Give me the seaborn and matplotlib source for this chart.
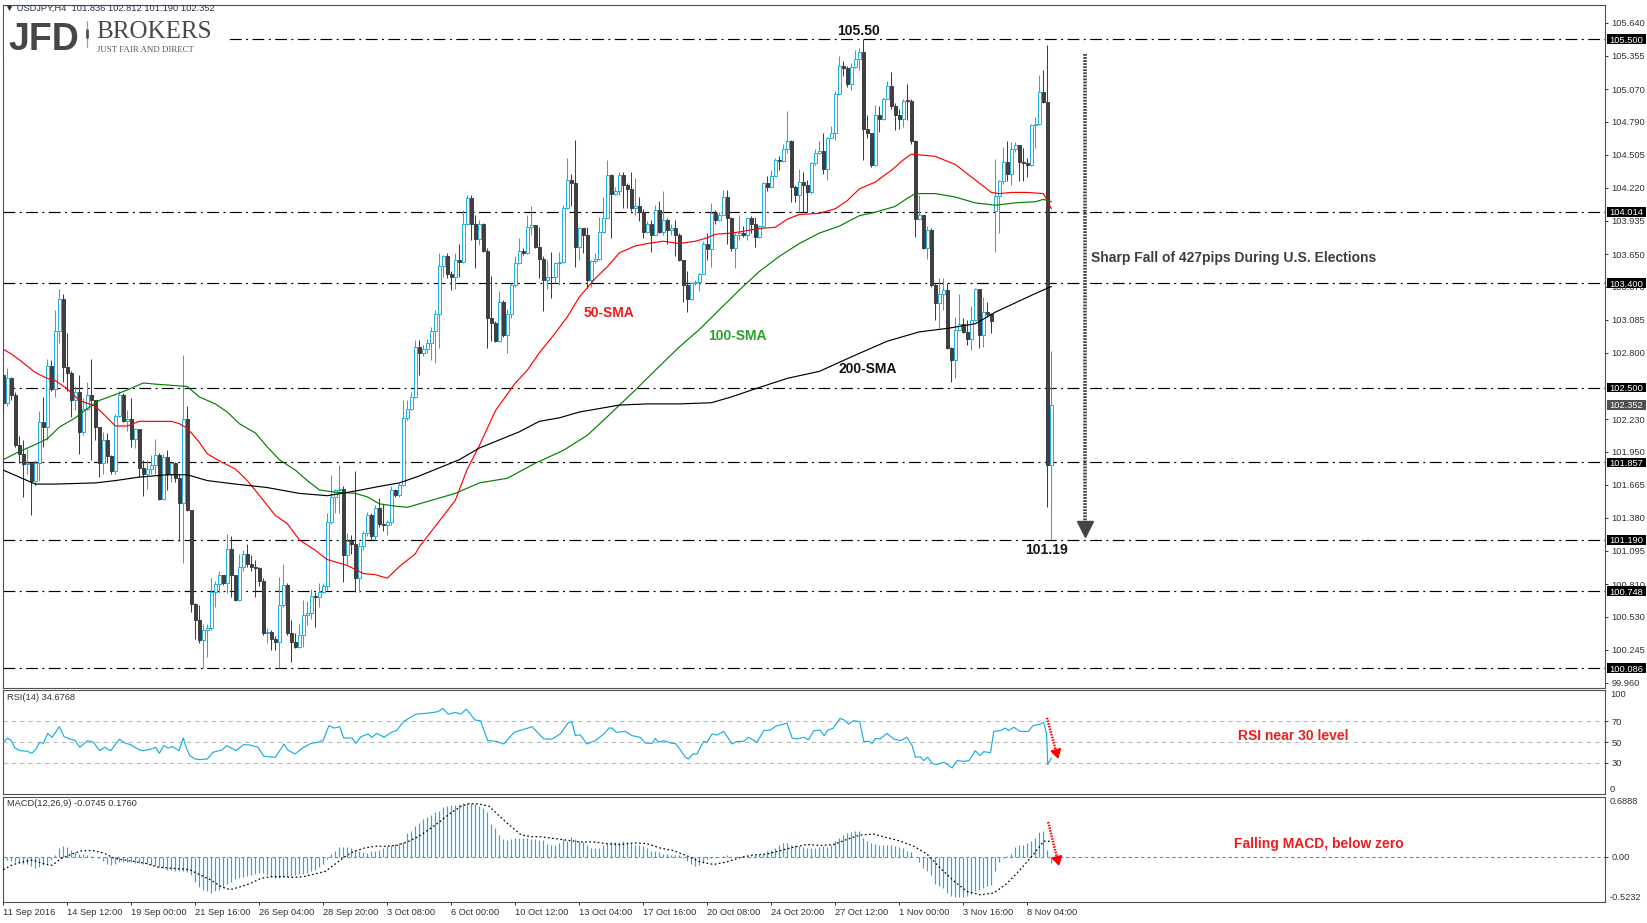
import numpy as np
import pandas as pd
import matplotlib
matplotlib.use("Agg")
import matplotlib.pyplot as plt
import seaborn as sns
from matplotlib.transforms import blended_transform_factory
from matplotlib.patches import Rectangle
from matplotlib.lines import Line2D

# ---------------- data ----------------
header_text = "\u25BC USDJPY,H4  101.836 102.812 101.190 102.352"
first_open = 102.61
gap_opens = {248: 104.02}   # Monday gap-up candle

closes = [
    102.37, 102.58, 102.44, 102.01, 101.93, 101.84, 101.85, 101.70, 101.85, 102.20,
    102.16, 102.69, 102.49, 102.99, 103.26, 102.68, 102.63, 102.39, 102.46, 102.12,
    102.32, 102.44, 102.39, 102.16, 101.85, 102.05, 101.91, 101.78, 102.26, 102.44,
    102.21, 102.23, 102.06, 102.14, 101.81, 101.76, 101.80, 101.83, 101.92, 101.54,
    101.90, 101.76, 101.85, 101.72, 101.51, 102.23, 101.45, 100.64, 100.50, 100.33,
    100.41, 100.43, 100.74, 100.81, 100.89, 100.82, 101.11, 100.89, 100.67, 100.96,
    101.07, 100.98, 100.96, 100.95, 100.84, 100.39, 100.40, 100.34, 100.31, 100.63,
    100.80, 100.39, 100.31, 100.27, 100.37, 100.54, 100.56, 100.71, 100.70, 100.74,
    100.79, 101.34, 101.56, 101.62, 101.63, 101.06, 101.18, 101.15, 100.86, 101.14,
    101.25, 101.40, 101.22, 101.46, 101.33, 101.32, 101.34, 101.62, 101.58, 101.66,
    102.24, 102.32, 102.42, 102.85, 102.80, 102.83, 102.88, 102.99, 103.13, 103.55,
    103.63, 103.48, 103.45, 103.60, 103.58, 103.91, 104.13, 103.91, 103.78, 103.91,
    103.68, 103.10, 103.06, 102.90, 103.24, 102.95, 103.13, 103.38, 103.57, 103.68,
    103.66, 103.88, 103.90, 103.71, 103.61, 103.43, 103.45, 103.45, 103.57, 103.58,
    104.05, 104.29, 104.26, 103.71, 103.87, 103.81, 103.43, 103.59, 103.61, 103.84,
    103.96, 104.33, 104.17, 104.19, 104.33, 104.24, 104.21, 104.05, 104.06, 104.01,
    103.84, 103.91, 103.81, 104.03, 103.84, 103.94, 103.86, 103.87, 103.81, 103.60,
    103.38, 103.26, 103.40, 103.41, 103.48, 103.74, 103.69, 104.00, 103.94, 103.99,
    104.14, 103.96, 103.70, 103.81, 103.83, 103.81, 103.96, 103.91, 103.80, 103.89,
    104.26, 104.23, 104.32, 104.46, 104.45, 104.55, 104.62, 104.23, 104.16, 104.27,
    104.24, 104.18, 104.43, 104.52, 104.54, 104.38, 104.65, 104.69, 105.03, 105.27,
    105.25, 105.11, 105.26, 105.33, 105.39, 104.73, 104.69, 104.42, 104.85, 104.81,
    104.98, 105.10, 104.92, 104.85, 104.81, 104.97, 104.97, 104.62, 103.95, 103.99,
    103.70, 103.86, 103.38, 103.23, 103.31, 103.34, 102.84, 102.74, 103.00, 103.05,
    102.98, 102.92, 103.08, 103.35, 102.95, 103.15, 103.13, 103.07, 104.15, 104.28,
    104.44, 104.34, 104.55, 104.59, 104.44, 104.43, 104.42, 104.76, 104.77, 105.04,
    104.96, 101.836, 102.352]

highs = [
    102.62, 102.67, 102.59, 102.46, 102.08, 102.05, 101.98, 101.85, 101.88, 102.30,
    102.42, 102.75, 102.74, 103.17, 103.35, 103.31, 102.97, 102.64, 102.51, 102.61,
    102.41, 102.55, 102.75, 102.39, 102.16, 102.12, 102.11, 101.92, 102.27, 102.47,
    102.45, 102.31, 102.41, 102.15, 102.14, 101.88, 101.88, 101.92, 102.06, 101.94,
    101.93, 101.96, 101.86, 101.86, 101.76, 102.78, 102.34, 101.45, 100.65, 100.63,
    100.47, 100.47, 100.86, 100.84, 100.92, 100.89, 101.24, 101.22, 100.89, 101.07,
    101.10, 101.15, 101.06, 101.02, 100.96, 100.86, 100.43, 100.41, 100.36, 100.87,
    100.98, 100.82, 100.50, 100.39, 100.47, 100.67, 100.66, 100.77, 100.74, 100.82,
    100.82, 101.42, 101.75, 101.63, 101.83, 101.65, 101.25, 101.23, 101.78, 101.17,
    101.27, 101.43, 101.42, 101.49, 101.55, 101.50, 101.36, 101.65, 101.63, 101.68,
    102.39, 102.39, 102.46, 102.91, 102.91, 102.87, 102.92, 103.02, 103.17, 103.66,
    103.64, 103.66, 103.50, 103.66, 103.74, 104.03, 104.16, 104.16, 103.99, 103.94,
    103.92, 103.70, 103.46, 103.07, 103.33, 103.25, 103.18, 103.40, 103.63, 103.79,
    103.70, 103.99, 104.06, 103.90, 103.88, 103.63, 103.60, 103.67, 103.58, 103.67,
    104.07, 104.48, 104.34, 104.63, 103.88, 103.87, 103.88, 103.60, 103.66, 103.97,
    104.14, 104.46, 104.34, 104.23, 104.36, 104.36, 104.26, 104.36, 104.30, 104.14,
    104.04, 103.93, 103.94, 104.07, 104.11, 104.19, 103.96, 103.91, 103.94, 103.83,
    103.60, 103.50, 103.41, 103.43, 103.49, 103.76, 103.83, 104.09, 104.03, 104.01,
    104.20, 104.20, 103.97, 103.83, 103.99, 103.89, 103.97, 103.98, 103.97, 103.90,
    104.27, 104.32, 104.37, 104.48, 104.49, 104.60, 104.88, 104.63, 104.24, 104.38,
    104.36, 104.29, 104.44, 104.55, 104.62, 104.69, 104.66, 104.75, 105.05, 105.35,
    105.31, 105.27, 105.29, 105.41, 105.42, 105.50, 104.85, 104.69, 104.93, 104.92,
    105.00, 105.14, 105.22, 104.95, 104.90, 104.98, 105.11, 104.98, 104.63, 104.16,
    103.99, 103.89, 103.87, 103.40, 103.44, 103.44, 103.40, 102.85, 103.11, 103.31,
    103.10, 103.08, 103.20, 103.36, 103.35, 103.28, 103.24, 103.14, 104.47, 104.29,
    104.57, 104.62, 104.61, 104.61, 104.59, 104.56, 104.48, 104.77, 104.83, 105.19,
    105.23, 105.45, 102.812]

lows = [
    102.29, 102.34, 102.39, 101.99, 101.85, 101.56, 101.76, 101.40, 101.65, 101.70,
    101.99, 102.05, 102.47, 102.42, 102.88, 102.55, 102.47, 102.25, 102.31, 101.93,
    102.09, 102.31, 101.88, 102.05, 101.73, 101.76, 101.85, 101.76, 101.76, 102.25,
    102.20, 102.13, 101.99, 101.98, 101.73, 101.57, 101.63, 101.76, 101.76, 101.53,
    101.53, 101.62, 101.69, 101.69, 101.18, 100.99, 101.44, 100.57, 100.34, 100.30,
    100.09, 100.18, 100.41, 100.61, 100.73, 100.80, 100.73, 100.70, 100.66, 100.66,
    100.92, 100.96, 100.92, 100.70, 100.79, 100.37, 100.30, 100.24, 100.24, 100.09,
    100.61, 100.37, 100.14, 100.26, 100.26, 100.27, 100.46, 100.51, 100.44, 100.61,
    100.73, 100.76, 101.33, 101.42, 101.42, 100.83, 100.97, 101.07, 100.74, 100.74,
    101.10, 101.22, 101.19, 101.19, 101.30, 101.27, 101.23, 101.32, 101.56, 101.56,
    101.65, 102.22, 102.31, 102.41, 102.61, 102.77, 102.80, 102.74, 102.71, 102.84,
    103.45, 103.44, 103.34, 103.35, 103.45, 103.57, 103.90, 103.77, 103.53, 103.73,
    103.67, 102.84, 102.90, 102.89, 102.89, 102.94, 102.80, 103.10, 103.37, 103.56,
    103.64, 103.65, 103.81, 103.70, 103.44, 103.16, 103.35, 103.27, 103.40, 103.38,
    103.57, 104.04, 104.06, 103.54, 103.60, 103.66, 103.36, 103.37, 103.57, 103.60,
    103.83, 103.95, 103.79, 104.16, 104.16, 104.05, 104.05, 104.02, 103.99, 103.93,
    103.79, 103.83, 103.67, 103.81, 103.83, 103.81, 103.74, 103.81, 103.63, 103.59,
    103.24, 103.15, 103.25, 103.38, 103.33, 103.48, 103.60, 103.54, 103.91, 103.93,
    103.99, 103.74, 103.68, 103.53, 103.77, 103.80, 103.77, 103.83, 103.71, 103.79,
    103.88, 104.19, 104.23, 104.32, 104.37, 104.44, 104.52, 104.10, 104.10, 104.01,
    104.01, 104.01, 104.17, 104.42, 104.51, 104.34, 104.29, 104.65, 104.63, 105.03,
    105.18, 105.09, 105.06, 105.25, 105.23, 104.46, 104.65, 104.40, 104.41, 104.70,
    104.80, 104.98, 104.90, 104.72, 104.73, 104.74, 104.80, 104.60, 103.80, 103.94,
    103.69, 103.61, 103.37, 103.08, 103.01, 103.17, 102.83, 102.55, 102.58, 102.99,
    102.97, 102.87, 102.82, 103.07, 102.84, 102.85, 103.11, 102.97, 103.67, 103.83,
    104.25, 104.28, 104.24, 104.53, 104.28, 104.28, 104.31, 104.41, 104.56, 104.76,
    104.95, 101.47, 101.190]

sma50 = [(0, 102.83), (2, 102.79), (4, 102.74), (8, 102.63), (11, 102.58), (13, 102.56),
         (16, 102.49), (19, 102.39), (23, 102.34), (26, 102.24), (28, 102.17), (31, 102.17),
         (34, 102.21), (38, 102.21), (42, 102.21), (44, 102.19), (46, 102.15), (49, 102.03),
         (51, 101.93), (54, 101.87), (58, 101.80), (61, 101.70), (65, 101.53), (68, 101.40),
         (71, 101.33), (74, 101.19), (78, 101.10), (81, 101.02), (86, 100.97), (90, 100.90),
         (93, 100.89), (96, 100.86), (99, 100.96), (103, 101.07), (104, 101.13), (113, 101.53),
         (116, 101.80), (119, 102.00), (123, 102.30), (128, 102.54), (131, 102.65), (134, 102.80),
         (138, 102.97), (141, 103.11), (144, 103.28), (148, 103.44), (151, 103.54), (154, 103.66),
         (158, 103.72), (161, 103.74), (165, 103.76), (169, 103.74), (173, 103.76), (176, 103.79),
         (178, 103.82), (182, 103.83), (184, 103.84), (189, 103.87), (193, 103.88), (196, 103.95),
         (199, 103.99), (204, 104.00), (208, 104.04), (211, 104.11), (214, 104.21), (218, 104.27),
         (222, 104.37), (225, 104.46), (227, 104.51), (230, 104.50), (233, 104.49), (238, 104.42),
         (241, 104.34), (244, 104.26), (247, 104.18), (249, 104.17), (252, 104.18), (256, 104.18),
         (260, 104.17), (261, 104.11), (262, 104.04)]

sma100 = [(0, 101.88), (4, 101.95), (8, 102.01), (11, 102.06), (14, 102.16), (18, 102.24),
          (21, 102.32), (24, 102.39), (28, 102.44), (31, 102.48), (35, 102.54), (38, 102.53),
          (42, 102.52), (46, 102.51), (49, 102.42), (53, 102.36), (56, 102.29), (59, 102.19),
          (63, 102.11), (66, 101.99), (69, 101.88), (73, 101.79), (76, 101.70), (79, 101.62),
          (83, 101.60), (88, 101.59), (91, 101.56), (94, 101.50), (98, 101.48), (101, 101.47),
          (104, 101.50), (108, 101.54), (113, 101.59), (119, 101.68), (126, 101.72), (133, 101.85),
          (140, 101.96), (146, 102.09), (151, 102.25), (158, 102.48), (163, 102.65), (169, 102.85),
          (174, 103.00), (179, 103.17), (184, 103.34), (189, 103.50), (194, 103.63), (199, 103.74),
          (204, 103.83), (209, 103.89), (214, 103.98), (218, 104.01), (223, 104.06), (226, 104.13),
          (228, 104.17), (233, 104.17), (238, 104.14), (243, 104.09), (248, 104.07), (253, 104.09),
          (258, 104.10), (260, 104.12), (262, 104.10)]

sma200 = [(0, 101.79), (4, 101.73), (8, 101.67), (13, 101.67), (23, 101.68), (28, 101.70),
          (34, 101.73), (41, 101.75), (46, 101.75), (51, 101.70), (58, 101.67), (66, 101.64),
          (74, 101.59), (81, 101.57), (88, 101.61), (94, 101.65), (99, 101.68), (104, 101.74),
          (109, 101.81), (114, 101.88), (119, 101.98), (124, 102.05), (129, 102.12), (134, 102.21),
          (139, 102.24), (144, 102.29), (149, 102.32), (154, 102.35), (161, 102.36), (169, 102.36),
          (177, 102.37), (182, 102.42), (188, 102.49), (196, 102.58), (204, 102.64), (213, 102.78),
          (221, 102.90), (229, 102.98), (236, 103.01), (243, 103.05), (248, 103.15), (253, 103.23),
          (258, 103.31), (262, 103.37)]

rsi_points = [
    (0, 49.7), (1.1, 53.8), (2.0, 51.3), (2.9, 44.2), (4.2, 41.7), (6.0, 41.1), (7.1, 39.1),
    (8.2, 43.3), (9.1, 49.7), (10.0, 48.7), (11.1, 58.3), (12.2, 54.5), (14.0, 64.7), (15.2, 55.1),
    (16.7, 52.9), (18.0, 51.3), (19.1, 44.9), (21.1, 51.3), (22.5, 49.7), (24.1, 41.7), (25.3, 44.9),
    (26.9, 41.7), (29.0, 52.6), (30.5, 49.0), (31.8, 47.4), (34.1, 42.3), (35.0, 41.7), (36.8, 43.0),
    (38.1, 44.9), (39.0, 39.1), (40.1, 46.5), (41.2, 44.2), (42.3, 45.5), (43.9, 41.7), (45.0, 53.8),
    (45.7, 44.9), (46.6, 36.9), (47.9, 33.7), (49.2, 33.1), (51.0, 33.7), (52.4, 40.1), (54.6, 42.3),
    (55.9, 46.5), (58.2, 41.7), (60.0, 47.4), (61.7, 47.1), (63.7, 44.9), (65.1, 36.3), (68.0, 35.3),
    (70.2, 48.1), (71.1, 42.3), (72.9, 38.5), (75.1, 44.9), (76.9, 48.7), (78.7, 49.7), (80.0, 51.9),
    (81.4, 65.7), (82.7, 63.4), (84.1, 64.7), (85.1, 53.8), (87.2, 53.8), (88.1, 48.7), (89.4, 55.1),
    (91.2, 57.7), (92.1, 54.5), (93.4, 58.3), (95.2, 54.5), (97.0, 59.3), (98.3, 60.9), (100.1, 69.8),
    (103.2, 76.8), (106.3, 77.8), (108.6, 79.1), (109.9, 82.3), (111.2, 76.8), (113.0, 78.4),
    (114.4, 76.8), (115.7, 81.6), (118.0, 71.1), (119.3, 70.4), (121.1, 51.3), (123.3, 50.6),
    (125.1, 48.1), (127.7, 59.3), (130.4, 62.5), (132.2, 64.7), (135.1, 52.9), (137.2, 52.9),
    (139.2, 57.7), (141.3, 68.9), (142.2, 68.9), (143.0, 56.1), (144.2, 57.0), (145.9, 48.1),
    (148.0, 51.3), (150.1, 57.7), (151.4, 63.4), (152.2, 63.4), (153.2, 59.3), (155.5, 60.2),
    (157.2, 56.1), (159.2, 54.5), (160.5, 49.0), (162.2, 48.7), (163.0, 53.5), (163.8, 49.7),
    (165.1, 51.3), (167.2, 48.7), (168.0, 48.7), (168.8, 44.9), (170.5, 35.3), (171.3, 33.7),
    (172.4, 38.5), (173.4, 38.5), (175.1, 50.6), (175.9, 49.7), (177.2, 57.7), (178.4, 56.7),
    (180.1, 60.2), (182.2, 48.1), (183.4, 50.6), (185.1, 50.6), (186.3, 54.5), (188.4, 49.7),
    (190.1, 60.9), (191.8, 61.5), (193.0, 65.0), (195.9, 68.2), (197.2, 53.8), (198.4, 52.9),
    (200.1, 54.5), (201.3, 52.2), (202.6, 60.9), (204.2, 61.5), (205.2, 56.1), (206.1, 61.5),
    (207.4, 63.1), (209.2, 72.7), (210.2, 71.1), (211.3, 67.3), (212.6, 70.5), (214.1, 69.5),
    (215.1, 50.6), (216.3, 50.6), (217.2, 48.7), (218.0, 53.5), (219.2, 52.9), (220.9, 58.3),
    (222.6, 52.9), (224.2, 51.3), (225.9, 54.5), (227.2, 46.5), (228.0, 35.3), (229.2, 35.9),
    (230.1, 32.1), (231.1, 35.3), (232.2, 29.5), (233.2, 28.2), (235.1, 30.5), (236.1, 28.2),
    (237.2, 25.0), (238.4, 32.1), (240.1, 31.4), (241.4, 32.1), (243.0, 41.7), (244.1, 36.9),
    (245.1, 40.7), (246.8, 39.8), (247.6, 60.2), (249.2, 60.9), (250.5, 63.4), (251.3, 60.9),
    (252.6, 64.1), (254.2, 60.2), (256.3, 60.2), (257.4, 65.7), (259.2, 67.3), (260.1, 68.9),
    (260.8, 57.7), (261.1, 28.2), (262.0, 34.7)]

macd_hist = [
    -0.03, -0.04, -0.05, -0.06, -0.07, -0.08, -0.09, -0.11, -0.13, -0.12, -0.10, -0.07, -0.04,
    0.02, 0.10, 0.12, 0.11, 0.08, 0.05, 0.03, 0.03, 0.02, 0.01, 0.00,
    -0.02, -0.05, -0.08, -0.10, -0.08, -0.06, -0.06, -0.06, -0.06, -0.07, -0.07, -0.08, -0.09,
    -0.10, -0.11, -0.12, -0.13, -0.15, -0.15, -0.16, -0.17, -0.17, -0.18, -0.21,
    -0.29, -0.35, -0.38, -0.40, -0.42, -0.40, -0.38, -0.35, -0.32, -0.29, -0.26, -0.25, -0.24,
    -0.22, -0.21, -0.20, -0.19, -0.19, -0.21, -0.23, -0.25, -0.25, -0.24, -0.23, -0.22, -0.21,
    -0.20, -0.20, -0.19, -0.17, -0.15, -0.12, -0.08, -0.03,
    0.03, 0.07, 0.11, 0.11, 0.11, 0.10, 0.08, 0.07, 0.05, 0.04, 0.06, 0.07, 0.08, 0.10, 0.12,
    0.13, 0.15, 0.16, 0.17,
    0.27, 0.30, 0.35, 0.39, 0.43, 0.46, 0.48, 0.51, 0.53, 0.57, 0.59, 0.60, 0.60, 0.61, 0.62,
    0.62, 0.62, 0.61, 0.59, 0.56, 0.52, 0.38, 0.33, 0.25, 0.20, 0.19, 0.20, 0.21, 0.21, 0.21,
    0.21, 0.20, 0.20,
    0.19, 0.19, 0.15, 0.14, 0.13, 0.16, 0.20, 0.18, 0.23, 0.20, 0.18, 0.17, 0.13, 0.10, 0.10,
    0.10, 0.13, 0.16, 0.17, 0.17, 0.17, 0.18, 0.17, 0.16, 0.14, 0.13, 0.12, 0.10, 0.07, 0.06,
    0.05, 0.03, 0.03, 0.02, 0.02, 0.02, -0.01, -0.05, -0.09, -0.11, -0.10, -0.07, -0.03, -0.02,
    -0.01, 0.00, 0.01, 0.02,
    0.00, 0.00, 0.00, 0.01, 0.00, 0.01, 0.02, 0.03, 0.03, 0.07, 0.08, 0.10, 0.13, 0.16, 0.16,
    0.14, 0.13, 0.12, 0.11, 0.10, 0.10, 0.10, 0.11, 0.12, 0.11, 0.13, 0.18, 0.22, 0.25, 0.27,
    0.29, 0.30, 0.30, 0.22, 0.18, 0.16, 0.15, 0.14, 0.14, 0.14, 0.13, 0.12, 0.11, 0.10, 0.07,
    0.05, 0.00,
    -0.06, -0.13, -0.17, -0.21, -0.31, -0.34, -0.36, -0.42, -0.45, -0.47, -0.47, -0.47, -0.45,
    -0.43, -0.40, -0.38, -0.36, -0.34, -0.33, -0.17, -0.06, -0.01, 0.01, 0.03, 0.11, 0.13, 0.14,
    0.16, 0.18, 0.22, 0.28, 0.30, 0.08, -0.0745]

macd_signal = [
    (0, -0.15), (2, -0.10), (4.6, -0.06), (7.3, -0.04), (10, -0.08), (12.2, -0.10), (14.5, -0.02),
    (17.1, 0.03), (19.8, 0.07), (22.5, 0.07), (25.2, 0.04), (27.8, -0.02), (30.5, -0.04),
    (33.2, -0.06), (35.9, -0.08), (38.5, -0.12), (41.2, -0.13), (43.9, -0.14), (46.6, -0.15),
    (49.2, -0.21), (51.9, -0.27), (54.6, -0.35), (56.8, -0.38), (59.1, -0.35), (61.7, -0.31),
    (64.4, -0.25), (67.1, -0.23), (69.8, -0.23), (72.4, -0.24), (75.1, -0.23), (77.8, -0.20),
    (80.5, -0.17), (83.1, -0.08), (85.4, 0.00), (87.6, 0.06), (90.3, 0.10), (93.0, 0.12),
    (95.6, 0.12), (98.3, 0.13), (101.0, 0.17), (103.7, 0.23), (106.3, 0.31), (109.0, 0.40),
    (111.7, 0.50), (114.4, 0.58), (116.1, 0.61), (118.8, 0.61), (121.5, 0.58), (124.2, 0.46),
    (126.9, 0.35), (129.5, 0.25), (132.2, 0.23), (134.2, 0.23), (137.6, 0.21), (140.9, 0.19),
    (144.2, 0.17), (147.6, 0.17), (150.9, 0.15), (154.2, 0.14), (157.6, 0.16), (160.9, 0.15),
    (164.2, 0.10), (167.6, 0.07), (170.9, 0.01), (174.2, -0.06), (177.6, -0.09), (180.9, -0.06),
    (184.2, -0.01), (187.6, 0.02), (190.9, 0.03), (194.2, 0.07), (197.6, 0.11), (200.9, 0.14),
    (204.2, 0.13), (207.6, 0.14), (210.9, 0.20), (214.2, 0.25), (217.6, 0.26), (220.9, 0.22),
    (224.2, 0.18), (227.6, 0.12), (230.9, 0.03), (234.2, -0.13), (237.6, -0.28), (240.9, -0.40),
    (244.2, -0.44), (247.6, -0.42), (250.9, -0.31), (254.2, -0.15), (257.6, 0.03), (260.1, 0.18),
    (262, 0.176)]

level_prices = [105.500, 104.014, 103.400, 102.500, 101.857, 101.190, 100.748, 100.086]
last_price = 102.352
price_ticks = [105.640, 105.355, 105.070, 104.790, 104.505, 104.220, 103.935, 103.650, 103.370,
               103.085, 102.800, 102.230, 101.950, 101.665, 101.380, 101.095, 100.810,
               100.530, 100.245, 99.960]
rsi_ticks = [70, 50, 30]
rsi_levels = [70, 50, 30]
date_tick_pos = list(range(0, 257, 16))
date_labels = ["11 Sep 2016", "14 Sep 12:00", "19 Sep 00:00", "21 Sep 16:00", "26 Sep 04:00",
               "28 Sep 20:00", "3 Oct 08:00", "6 Oct 00:00", "10 Oct 12:00", "13 Oct 04:00",
               "17 Oct 16:00", "20 Oct 08:00", "24 Oct 20:00", "27 Oct 12:00", "1 Nov 00:00",
               "3 Nov 16:00", "8 Nov 04:00"]

# ---------------- style ----------------
sns.set_theme(style="white")
plt.rcParams["font.family"] = ["Liberation Sans", "DejaVu Sans"]
plt.rcParams["lines.scale_dashes"] = False
plt.rcParams["axes.unicode_minus"] = False

CYAN = "#1aaee0"
BEAR = "#3f3f3f"
AXC = "#2b313b"
SMALL = 6.7
BOLD = ["Liberation Sans", "DejaVu Sans"]
SERIF = ["Liberation Serif", "DejaVu Serif"]

W, H = 1647, 923
L, R = 3, 1605
WPX = R - L
fig = plt.figure(figsize=(W / 100, H / 100), dpi=100, facecolor="white")


def rect(top, bottom):
    return [L / W, 1 - bottom / H, (R - L) / W, (bottom - top) / H]


ax = fig.add_axes(rect(5, 688))
ax_rsi = fig.add_axes(rect(690, 794))
ax_macd = fig.add_axes(rect(797, 902))
XLIM = (-0.075, 400.4)
PMIN, PMAX = 99.915, 105.793
PPU = 683 / (PMAX - PMIN)   # pixels per price unit

# ---------------- main price panel ----------------
n = min(len(closes), len(highs), len(lows))
idx = np.arange(n)
c = np.asarray(closes[:n], float)
hi = np.asarray(highs[:n], float)
lo = np.asarray(lows[:n], float)
o = np.r_[first_open, c[:-1]]
for k, v in gap_opens.items():
    if k < n:
        o[k] = v
bull = c > o
edge = [CYAN if b else BEAR for b in bull]
face = ["white" if b else BEAR for b in bull]

for lv in level_prices:
    ax.axhline(lv, color="black", linewidth=0.85, linestyle=(0, (8.5, 3.2, 1.4, 3.2)), zorder=2)

ax.vlines(idx, lo, hi, colors=edge, linewidth=0.75, zorder=3)
ax.bar(idx, np.maximum(np.abs(c - o), 0.006), bottom=np.minimum(o, c), width=0.72,
       color=face, edgecolor=edge, linewidth=0.7, zorder=4)

for pts, colr in [(sma50, "#ff0000"), (sma100, "#008000"), (sma200, "#000000")]:
    d = pd.DataFrame(pts, columns=["i", "v"])
    sns.lineplot(data=d, x="i", y="v", ax=ax, color=colr, linewidth=0.85,
                 estimator=None, sort=False, legend=False, zorder=5)

ax.set_xlim(*XLIM)
ax.set_ylim(PMIN, PMAX)
ax.yaxis.tick_right()
ax.set_yticks(price_ticks)
ax.set_yticklabels([f"{t:.3f}" for t in price_ticks])
ax.tick_params(axis="y", which="both", direction="out", length=2.5, width=0.7, pad=2.0,
               labelsize=SMALL, colors=AXC, right=True, left=False, labelright=True, labelleft=False)
ax.tick_params(axis="x", bottom=False, labelbottom=False)
ax.set_xlabel("")
ax.set_ylabel("")


def price_box(axis, y, text, fc, ppu):
    tr = blended_transform_factory(axis.transAxes, axis.transData)
    half = 4.8 / ppu
    axis.add_patch(Rectangle((1 + 1.5 / WPX, y - half), 39.5 / WPX, 2 * half, transform=tr,
                             facecolor=fc, edgecolor="none", clip_on=False, zorder=20))
    axis.text(1 + 21.5 / WPX, y, text, transform=tr, ha="center", va="center_baseline",
              color="white", fontsize=SMALL, clip_on=False, zorder=21)


for lv in level_prices:
    price_box(ax, lv, f"{lv:.3f}", "black", PPU)
price_box(ax, last_price, f"{last_price:.3f}", "#505050", PPU)

# annotations
ax.text(213.9, 105.573, "105.50", ha="center", va="center", fontsize=10, fontweight="bold",
        family=BOLD, color="#111111", zorder=30)
ax.text(260.7, 101.102, "101.19", ha="center", va="center", fontsize=10, fontweight="bold",
        family=BOLD, color="#111111", zorder=30)
ax.text(151.4, 103.142, "50-SMA", ha="center", va="center", fontsize=10, fontweight="bold",
        family=BOLD, color="#ee1c1c", zorder=30)
ax.text(183.4, 102.944, "100-SMA", ha="center", va="center", fontsize=10, fontweight="bold",
        family=BOLD, color="#2ea02e", zorder=30)
ax.text(216.2, 102.660, "200-SMA", ha="center", va="center", fontsize=10, fontweight="bold",
        family=BOLD, color="#111111", zorder=30)
ax.text(271.9, 103.615, "Sharp Fall of 427pips During U.S. Elections", ha="left", va="center",
        fontsize=10, fontweight="bold", family=BOLD, color="#3d3d3d", zorder=30)
ax.plot([270.3, 270.3], [105.371, 101.31], color="#444444", linewidth=2.6,
        linestyle=(0, (1.3, 0.9)), zorder=6)
ax.plot([270.3], [101.280], marker="v", markersize=11, color="#444444", zorder=7)

# ---------------- RSI panel ----------------
d = pd.DataFrame(rsi_points, columns=["i", "v"])
for lv in rsi_levels:
    ax_rsi.axhline(lv, color="#b9b9b9", linewidth=0.8, linestyle=(0, (3, 3)), zorder=1)
sns.lineplot(data=d, x="i", y="v", ax=ax_rsi, color=CYAN, linewidth=0.85,
             estimator=None, sort=False, legend=False, zorder=3)
ax_rsi.set_xlim(*XLIM)
ax_rsi.set_ylim(0, 100)
ax_rsi.yaxis.tick_right()
ax_rsi.set_yticks(rsi_ticks)
ax_rsi.set_yticklabels([str(t) for t in rsi_ticks])
ax_rsi.tick_params(axis="y", direction="out", length=2.5, width=0.7, pad=2.0, labelsize=SMALL,
                   colors=AXC, right=True, left=False, labelright=True, labelleft=False)
ax_rsi.tick_params(axis="x", bottom=False, labelbottom=False)
ax_rsi.set_xlabel("")
ax_rsi.set_ylabel("")
tr_rsi = blended_transform_factory(ax_rsi.transAxes, ax_rsi.transData)
ax_rsi.text(1 + 5 / WPX, 100, "100", transform=tr_rsi, ha="left", va="top", fontsize=SMALL,
            color=AXC, clip_on=False)
ax_rsi.text(1 + 5 / WPX, 0, "0", transform=tr_rsi, ha="left", va="bottom", fontsize=SMALL,
            color=AXC, clip_on=False)
ax_rsi.text(322.4, 55.9, "RSI near 30 level", ha="center", va="center", fontsize=10,
            fontweight="bold", family=BOLD, color="#ee1c1c", zorder=30)
ax_rsi.plot([260.9, 263.1], [73.2, 42.0], color="#ff0000", linewidth=1.8,
            linestyle=(0, (1.1, 0.9)), zorder=6)
ax_rsi.plot([263.15], [40.4], marker=(3, 0, -165), markersize=8, color="#ff0000", zorder=7)

# ---------------- MACD panel ----------------
m_idx = np.arange(len(macd_hist))
ax_macd.axhline(0, color=CYAN, linewidth=0.8, linestyle=(0, (2.5, 2)), zorder=1)
ax_macd.vlines(m_idx, 0, macd_hist, colors=CYAN, linewidth=0.85, zorder=2)
d = pd.DataFrame(macd_signal, columns=["i", "v"])
sns.lineplot(data=d, x="i", y="v", ax=ax_macd, color="black", linewidth=0.9,
             linestyle=(0, (1.2, 1.8)), estimator=None, sort=False, legend=False, zorder=3)
ax_macd.set_xlim(*XLIM)
ax_macd.set_ylim(-0.5232, 0.6888)
ax_macd.yaxis.tick_right()
ax_macd.set_yticks([0.0])
ax_macd.set_yticklabels(["0.00"])
ax_macd.tick_params(axis="y", direction="out", length=2.5, width=0.7, pad=2.0, labelsize=SMALL,
                    colors=AXC, right=True, left=False, labelright=True, labelleft=False)
tr_m = blended_transform_factory(ax_macd.transAxes, ax_macd.transData)
ax_macd.text(1 + 5 / WPX, 0.6888, "0.6888", transform=tr_m, ha="left", va="top", fontsize=SMALL,
             color=AXC, clip_on=False)
ax_macd.text(1 + 5 / WPX, -0.5232, "-0.5232", transform=tr_m, ha="left", va="bottom",
             fontsize=SMALL, color=AXC, clip_on=False)
ax_macd.set_xticks(date_tick_pos)
ax_macd.set_xticklabels(date_labels, ha="left")
ax_macd.tick_params(axis="x", direction="out", length=2.5, width=0.7, pad=1.5, labelsize=SMALL,
                    colors=AXC, bottom=True)
ax_macd.set_xlabel("")
ax_macd.set_ylabel("")
ax_macd.text(328.9, 0.147, "Falling MACD, below zero", ha="center", va="center", fontsize=10,
             fontweight="bold", family=BOLD, color="#ee1c1c", zorder=30)
ax_macd.plot([261.2, 263.4], [0.40, -0.01], color="#ff0000", linewidth=1.8,
             linestyle=(0, (1.1, 0.9)), zorder=6)
ax_macd.plot([263.46], [-0.028], marker=(3, 0, -166), markersize=8, color="#ff0000", zorder=7)

for a in (ax, ax_rsi, ax_macd):
    a.set_facecolor("white")
    for s in a.spines.values():
        s.set_visible(True)
        s.set_color("#505050")
        s.set_linewidth(0.8)

# ---------------- header, panel captions and logo ----------------
fig.text(5 / W, 1 - 8.5 / H, header_text, ha="left", va="center", fontsize=SMALL, color="#24324d")
fig.text(7 / W, 1 - 697.5 / H, "RSI(14) 34.6768", ha="left", va="center", fontsize=SMALL, color=AXC)
fig.text(7 / W, 1 - 804 / H, "MACD(12,26,9) -0.0745 0.1760", ha="left", va="center",
         fontsize=SMALL, color=AXC)

fig.add_artist(Rectangle((4 / W, 1 - 58 / H), 222 / W, 44 / H, transform=fig.transFigure,
                         facecolor="white", edgecolor="none", zorder=2.5))
fig.text(8 / W, 1 - 50 / H, "JFD", ha="left", va="baseline", fontsize=27, fontweight="bold",
         family=BOLD, color="#474747", zorder=3)
fig.add_artist(Line2D([86.5 / W, 86.5 / W], [1 - 21 / H, 1 - 47 / H], transform=fig.transFigure,
                      color="#a0a0a0", linewidth=0.9, zorder=3))
fig.add_artist(Line2D([86.5 / W, 86.5 / W], [1 - 30 / H, 1 - 37 / H], transform=fig.transFigure,
                      color="#505050", linewidth=2.0, zorder=3))
fig.text(96 / W, 1 - 38 / H, "BROKERS", ha="left", va="baseline", fontsize=18, family=SERIF,
         color="#4a4a4a", zorder=3)
fig.text(97 / W, 1 - 52.5 / H, "JUST FAIR AND DIRECT", ha="left", va="baseline", fontsize=6.4,
         family=SERIF, color="#555555", zorder=3)

fig.savefig("out.png", dpi=100, facecolor="white")
